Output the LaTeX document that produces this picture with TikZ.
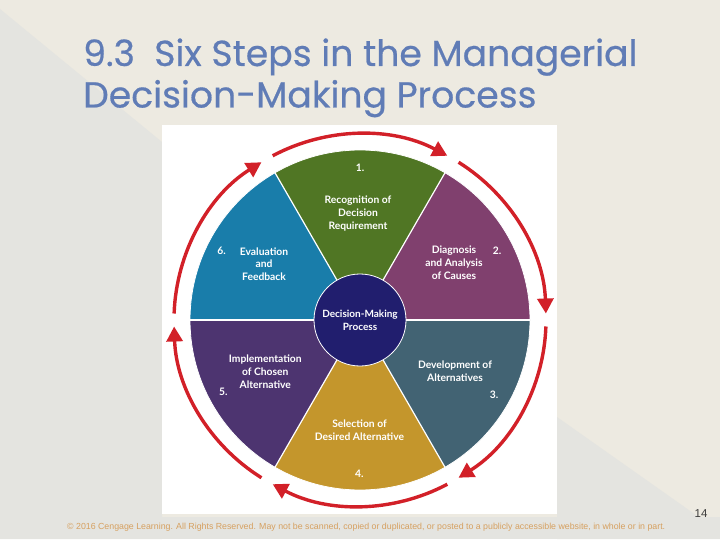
\documentclass[tikz,border=0pt]{standalone}
\usepackage{fontspec}
\setmainfont{Lato}
\newfontfamily\titlefont[FakeBold=0.5]{Poppins}
\newfontfamily\footfont{Liberation Sans}
\usetikzlibrary{arrows.meta,calc}
\definecolor{bgbeige}{RGB}{237,234,225}
\definecolor{bggrey}{RGB}{228,228,224}
\definecolor{titleblue}{RGB}{96,124,182}
\definecolor{footorange}{RGB}{214,160,96}
\definecolor{pgnum}{RGB}{60,60,60}
\definecolor{seggreen}{RGB}{80,118,36}
\definecolor{segplum}{RGB}{128,64,110}
\definecolor{segslate}{RGB}{66,99,115}
\definecolor{seggold}{RGB}{196,150,44}
\definecolor{segpurple}{RGB}{77,52,112}
\definecolor{segblue}{RGB}{25,125,170}
\definecolor{centernavy}{RGB}{33,30,110}
\definecolor{arrowred}{RGB}{210,32,40}
\tikzset{
  segtext/.style={text=white, align=center, inner sep=0pt, font=\bfseries\fontsize{10.3}{12.6}\selectfont},
  redarrow/.style={draw=arrowred, line width=3.4pt, -{Triangle[length=15pt,width=16pt]}},
  sepline/.style={draw=white, line width=1.2pt},
  titletext/.style={anchor=base west, inner sep=0pt, text=titleblue, font=\titlefont\fontsize{36.2}{40}\selectfont},
}
\begin{document}
\begin{tikzpicture}[x=1pt,y=1pt]
\useasboundingbox (0,0) rectangle (720,539);
% background
\fill[bgbeige] (0,0) rectangle (720,539);
\fill[bggrey] (0,530) -- (162,397) -- (162,0) -- (0,0) -- cycle;
\fill[bggrey] (557,122) -- (720,7) -- (720,0) -- (557,0) -- cycle;
\fill[bggrey] (0,0) rectangle (720,22);
% white panel
\fill[white] (162,25) rectangle (557,414);
% title
\node[titletext] (t1) at (83,473) {9.3\ \ Six Steps in the Managerial};
\node[titletext] (t2) at (83,431.5) {Decision-Making Process};
% pie
\coordinate (C) at (360,219);
\fill[seggreen]  (C) -- ++(60:170)  arc[start angle=60,  end angle=120, radius=170] -- cycle;
\fill[segblue]   (C) -- ++(120:170) arc[start angle=120, end angle=180, radius=170] -- cycle;
\fill[segpurple] (C) -- ++(180:170) arc[start angle=180, end angle=240, radius=170] -- cycle;
\fill[seggold]   (C) -- ++(240:170) arc[start angle=240, end angle=300, radius=170] -- cycle;
\fill[segslate]  (C) -- ++(300:170) arc[start angle=300, end angle=360, radius=170] -- cycle;
\fill[segplum]   (C) -- ++(0:170)   arc[start angle=0,   end angle=60,  radius=170] -- cycle;
\foreach \a in {0,60,...,300} \draw[sepline] (C) -- ++(\a:170);
\draw[white, line width=0.8pt] (C) circle[radius=170];
\node[circle, fill=centernavy, draw=white, line width=0.8pt, minimum size=92pt, inner sep=0pt,
      text=white, align=center, font=\bfseries\fontsize{10}{13.2}\selectfont] (hub) at (C) {Decision-Making\\Process};
% segment texts
\node[segtext] (n1) at (360,370.7) {1.};
\node[segtext] (s1) at (358,325.5) {Recognition of\\Decision\\Requirement};
\node[segtext] (s2) at (454,276.3) {Diagnosis\\and Analysis\\of Causes};
\node[segtext] (n2) at (497,288.3) {2.};
\node[segtext] (s3) at (455,167.6) {Development of\\Alternatives};
\node[segtext] (n3) at (494,144) {3.};
\node[segtext] (s4) at (359.5,109) {Selection of\\Desired Alternative};
\node[segtext] (n4) at (359.3,64.7) {4.};
\node[segtext] (s5) at (265.3,167.3) {Implementation\\of Chosen\\Alternative};
\node[segtext] (n5) at (223.3,147.3) {5.};
\node[segtext] (s6) at (264,275) {Evaluation\\and\\Feedback};
\node[segtext] (n6) at (221.7,287.7) {6.};
% red cycle arrows
\foreach \k in {0,...,5} {
  \pgfmathsetmacro\sa{118-60*\k}
  \pgfmathsetmacro\ea{62-60*\k}
  \draw[redarrow] (C) ++(\sa:186) arc[start angle=\sa, end angle=\ea, radius=186];
}
% footer
\node[anchor=base west, inner sep=0pt, text=footorange, font=\footfont\fontsize{8.8}{10}\selectfont] (foot) at (67,10) {© 2016 Cengage Learning. All Rights Reserved. May not be scanned, copied or duplicated, or posted to a publicly accessible website, in whole or in part.};
\node[inner sep=0pt, text=pgnum, font=\footfont\fontsize{11.5}{13}\selectfont] (pg) at (701,25) {14};
\end{tikzpicture}
\end{document}
